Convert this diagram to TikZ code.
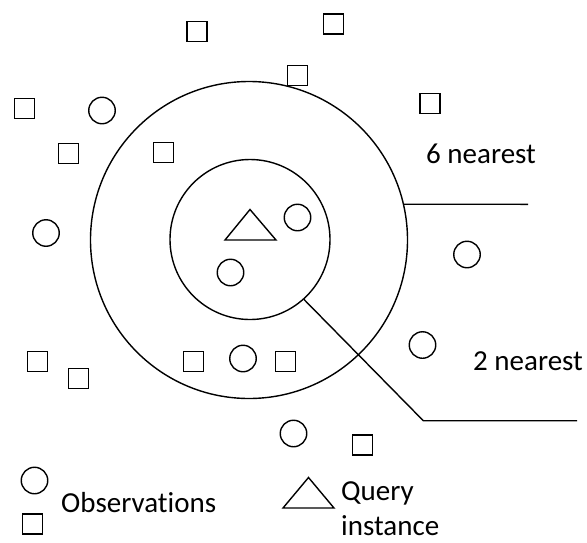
\documentclass[tikz,border=0pt]{standalone}
\usepackage{fontspec}
\setmainfont{Carlito}[Ligatures={NoCommon}]
\begin{document}
\begin{tikzpicture}[x=1pt,y=-1pt,
  obs/.style={draw=black,line width=1.4pt,inner sep=0pt},
  sq/.style={obs,rectangle,minimum size=20pt},
  cir/.style={obs,circle,minimum size=26.5pt},
  ring/.style={draw=black,line width=1.4pt,circle,inner sep=0pt},
  conn/.style={draw=black,line width=1.4pt},
  lbl/.style={inner sep=0pt,anchor=base west,font=\fontsize{29}{35}\selectfont}]
\useasboundingbox (0,0) rectangle (587,542);
\fill[white] (0,0) rectangle (587,542);
% rings
\node[ring,minimum size=317pt] (big) at (249,240) {};
\node[ring,minimum size=160pt] (small) at (250,239.5) {};
% squares
\node[sq] (s1) at (197,31.5) {};
\node[sq] (s2) at (333.5,24) {};
\node[sq] (s3) at (297.5,75.5) {};
\node[sq] (s4) at (24.5,108.5) {};
\node[sq] (s5) at (430,103.5) {};
\node[sq] (s6) at (68.5,153.5) {};
\node[sq] (s7) at (163.5,152.5) {};
\node[sq] (s8) at (37.5,361.5) {};
\node[sq] (s9) at (78.5,378.5) {};
\node[sq] (s10) at (193.5,361.5) {};
\node[sq] (s11) at (285.5,361.5) {};
\node[sq] (s12) at (362.5,445) {};
\node[sq] (lsq) at (32.5,524) {};
% circles
\node[cir] (c1) at (102,110.5) {};
\node[cir] (c2) at (46,233) {};
\node[cir] (c3) at (297.5,217.5) {};
\node[cir] (c4) at (230.5,272.5) {};
\node[cir] (c5) at (467,254.5) {};
\node[cir] (c6) at (243,358.5) {};
\node[cir] (c7) at (422.5,345) {};
\node[cir] (c8) at (293.5,433.5) {};
\node[cir] (lci) at (34.5,480.5) {};
% triangles
\draw[line width=1.4pt,line join=miter] (250,209.5) -- (276,240) -- (225,240) -- cycle;
\draw[line width=1.4pt,line join=miter] (308.5,477.5) -- (334,508) -- (283,508) -- cycle;
% connectors
\coordinate (e6) at (528,204.3);
\coordinate (k2) at (423.3,420.7);
\coordinate (e2) at (577,420.7);
\draw[conn] (big.13) -- (e6);
\draw[conn] (small.-48) -- (k2) -- (e2);
% labels
\node[lbl] (t6) at (426,163) {6 nearest};
\node[lbl] (t2) at (473,370) {2 nearest};
\node[lbl] (tobs) at (61,512) {Observations};
\node[lbl] (tq) at (341,500) {Query};
\node[lbl] (ti) at (341,535) {instance};
\end{tikzpicture}
\end{document}
